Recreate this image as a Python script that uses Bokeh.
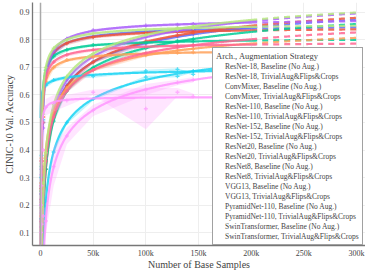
import numpy as np
from bokeh.plotting import figure
from bokeh.models import Legend, LegendItem, Span, Range1d, FixedTicker
from bokeh.embed import file_html
from bokeh.resources import INLINE

# ---------------- data ----------------
n_samples = [500, 1000, 2500, 5000, 12500, 25000, 50000, 100000, 130000, 145000]
FIT_MIN_SAMPLES = 5000

archs = ["ResNet-18", "ConvMixer", "ResNet-110", "ResNet-152", "ResNet20",
         "ResNet8", "VGG13", "PyramidNet-110", "SwinTransformer"]
strategies = ["Baseline (No Aug.)", "TrivialAug&Flips&Crops"]
colors = ["#636EFA", "#EF553B", "#00CC96", "#AB63FA", "#FFA15A",
          "#19D3F3", "#FF6692", "#B6E880", "#FF97FF"]

resnet18_base = [0.24, 0.33, 0.50, 0.67, 0.75, 0.79, 0.812, 0.83, 0.835, 0.837]
resnet18_ta = [0.14, 0.20, 0.28, 0.36, 0.53, 0.635, 0.722, 0.787, 0.812, 0.82]
convmixer_base = [0.26, 0.36, 0.52, 0.68, 0.757, 0.787, 0.81, 0.826, 0.829, 0.831]
convmixer_ta = [0.15, 0.21, 0.29, 0.33, 0.52, 0.632, 0.718, 0.795, 0.816, 0.826]
resnet110_base = [0.25, 0.34, 0.50, 0.69, 0.74, 0.764, 0.782, 0.79, 0.794, 0.794]
resnet110_ta = [0.13, 0.19, 0.27, 0.33, 0.505, 0.615, 0.70, 0.77, 0.795, 0.803]
resnet152_base = [0.22, 0.31, 0.48, 0.665, 0.76, 0.804, 0.835, 0.852, 0.855, 0.858]
resnet152_ta = [0.12, 0.17, 0.26, 0.37, 0.545, 0.655, 0.74, 0.81, 0.833, 0.843]
resnet20_base = [0.28, 0.37, 0.52, 0.648, 0.70, 0.727, 0.738, 0.75, 0.753, 0.755]
resnet20_ta = [0.16, 0.22, 0.32, 0.40, 0.542, 0.625, 0.69, 0.744, 0.762, 0.768]
resnet8_base = [0.30, 0.38, 0.51, 0.635, 0.654, 0.664, 0.668, 0.687, 0.693, 0.675]
resnet8_ta = [0.15, 0.20, 0.23, 0.214, 0.393, 0.50, 0.585, 0.665, 0.668, 0.687]
vgg13_base = [0.27, 0.36, 0.50, 0.663, 0.72, 0.746, 0.764, 0.775, 0.779, 0.78]
vgg13_ta = [0.14, 0.20, 0.29, 0.36, 0.52, 0.614, 0.69, 0.752, 0.773, 0.781]
pyramid_base = [0.25, 0.35, 0.53, 0.70, 0.77, 0.80, 0.824, 0.838, 0.842, 0.843]
pyramid_ta = [0.13, 0.19, 0.28, 0.39, 0.565, 0.667, 0.75, 0.818, 0.84, 0.849]
swin_base = [0.20, 0.27, 0.40, 0.555, 0.57, 0.58, 0.61, 0.55, 0.61, 0.595]
swin_ta = [0.10, 0.13, 0.16, 0.142, 0.34, 0.451, 0.544, 0.62, 0.645, 0.655]

small_std = [0.01, 0.01, 0.012, 0.01, 0.008, 0.006, 0.005, 0.005, 0.004, 0.004]
swin_base_std = [0.02, 0.02, 0.03, 0.03, 0.03, 0.02, 0.01, 0.075, 0.015, 0.01]
swin_ta_std = [0.01, 0.02, 0.03, 0.05, 0.07, 0.03, 0.02, 0.02, 0.01, 0.01]

series_values = [
    resnet18_base, resnet18_ta, convmixer_base, convmixer_ta,
    resnet110_base, resnet110_ta, resnet152_base, resnet152_ta,
    resnet20_base, resnet20_ta, resnet8_base, resnet8_ta,
    vgg13_base, vgg13_ta, pyramid_base, pyramid_ta, swin_base, swin_ta,
]
series_std = [small_std] * 16 + [swin_base_std, swin_ta_std]

x_ticks = [0, 50000, 100000, 150000, 200000, 250000, 300000]
x_tick_labels = ["0", "50k", "100k", "150k", "200k", "250k", "300k"]
y_ticks = [0.1, 0.2, 0.3, 0.4, 0.5, 0.6, 0.7, 0.8, 0.9]
y_tick_labels = ["0.1", "0.2", "0.3", "0.4", "0.5", "0.6", "0.7", "0.8", "0.9"]

FONT = "Liberation Serif"
TXT = "#444444"


def fit_power_law(n, y):
    n = np.asarray(n, float)
    y = np.asarray(y, float)
    keep = n >= FIT_MIN_SAMPLES
    n = n[keep] / 1000.0
    y = y[keep]
    best = None
    for c in np.arange(0.05, 2.5, 0.005):
        X = np.column_stack([np.ones_like(n), -n ** (-c)])
        coef, *_ = np.linalg.lstsq(X, y, rcond=None)
        sse = float(np.sum((X @ coef - y) ** 2))
        if best is None or sse < best[0]:
            best = (sse, coef[0], coef[1], c)
    return best[1], best[2], best[3]


def model(n, a, b, c):
    return a - b * (np.asarray(n, float) / 1000.0) ** (-c)


p = figure(width=365, height=272, output_backend="svg", toolbar_location=None,
           x_range=Range1d(-7600, 308500), y_range=Range1d(0.053, 0.936),
           min_border_left=10, min_border_right=0, min_border_top=2,
           min_border_bottom=0)
p.outline_line_color = None
p.background_fill_color = "white"
p.border_fill_color = "white"

p.add_layout(Span(location=0, dimension="height", line_color="#aaaaaa",
                  line_width=1.5))

grid_solid = np.concatenate([np.linspace(120, 3000, 150), np.linspace(3000, 200000, 300)])
grid_dash = np.linspace(200000, 300000, 100)

legend_items = []
for i, vals in enumerate(series_values):
    col = colors[i // 2]
    label = f"{archs[i // 2]}, {strategies[i % 2]}"
    vals_a = np.array(vals)
    std_a = np.array(series_std[i])
    p.varea(x=n_samples, y1=vals_a - std_a, y2=vals_a + std_a,
            fill_color=col, fill_alpha=0.25)
    a, b, c = fit_power_law(n_samples, vals)
    p.line(grid_solid, model(grid_solid, a, b, c), line_color=col,
           line_width=2.2, line_alpha=0.85)
    p.line(grid_dash, model(grid_dash, a, b, c), line_color=col,
           line_width=2.2, line_alpha=0.85, line_dash="6 5")
    p.scatter(n_samples, vals, marker="cross", size=4, line_width=1.4,
              color=col, alpha=0.7)
    dummy = p.scatter(x=[], y=[], marker="circle", size=3.5, color=col)
    legend_items.append(LegendItem(label=label, renderers=[dummy]))

# axes
p.xaxis.ticker = FixedTicker(ticks=x_ticks)
p.xaxis.major_label_overrides = dict(zip(x_ticks, x_tick_labels))
p.yaxis.ticker = FixedTicker(ticks=y_ticks)
p.yaxis.major_label_overrides = dict(zip(y_ticks, y_tick_labels))
p.xaxis.axis_label = "Number of Base Samples"
p.yaxis.axis_label = "CINIC-10 Val. Accuracy"
for ax in (p.xaxis[0], p.yaxis[0]):
    ax.axis_label_text_font = FONT
    ax.axis_label_text_font_size = "10px"
    ax.axis_label_text_font_style = "normal"
    ax.axis_label_text_color = TXT
    ax.major_label_text_font = FONT
    ax.major_label_text_font_size = "8px"
    ax.major_label_text_color = TXT
    ax.major_tick_out = 0
    ax.major_tick_in = 0
    ax.minor_tick_out = 0
    ax.minor_tick_in = 0
    ax.axis_line_color = "#777777"
    ax.axis_line_width = 1.3
p.xaxis.major_label_standoff = 3
p.xaxis.axis_label_standoff = -2
p.yaxis.major_label_standoff = 3
p.yaxis.axis_label_standoff = 2
p.xgrid.grid_line_color = "#eeeeee"
p.ygrid.grid_line_color = "#eeeeee"

legend = Legend(items=legend_items, location=(180, 0), title="Arch., Augmentation Strategy",
                title_text_font=FONT, title_text_font_size="8.5px",
                title_text_font_style="normal", title_text_color=TXT,
                title_standoff=1,
                label_text_font=FONT, label_text_font_size="7.5px", label_text_color=TXT,
                label_height=8, glyph_height=8, glyph_width=6, label_standoff=3,
                spacing=1, padding=3, margin=0,
                border_line_color="#444444", border_line_width=1,
                background_fill_color="white", background_fill_alpha=1.0)
p.add_layout(legend)

open("out.html", "w").write(file_html(p, INLINE))
